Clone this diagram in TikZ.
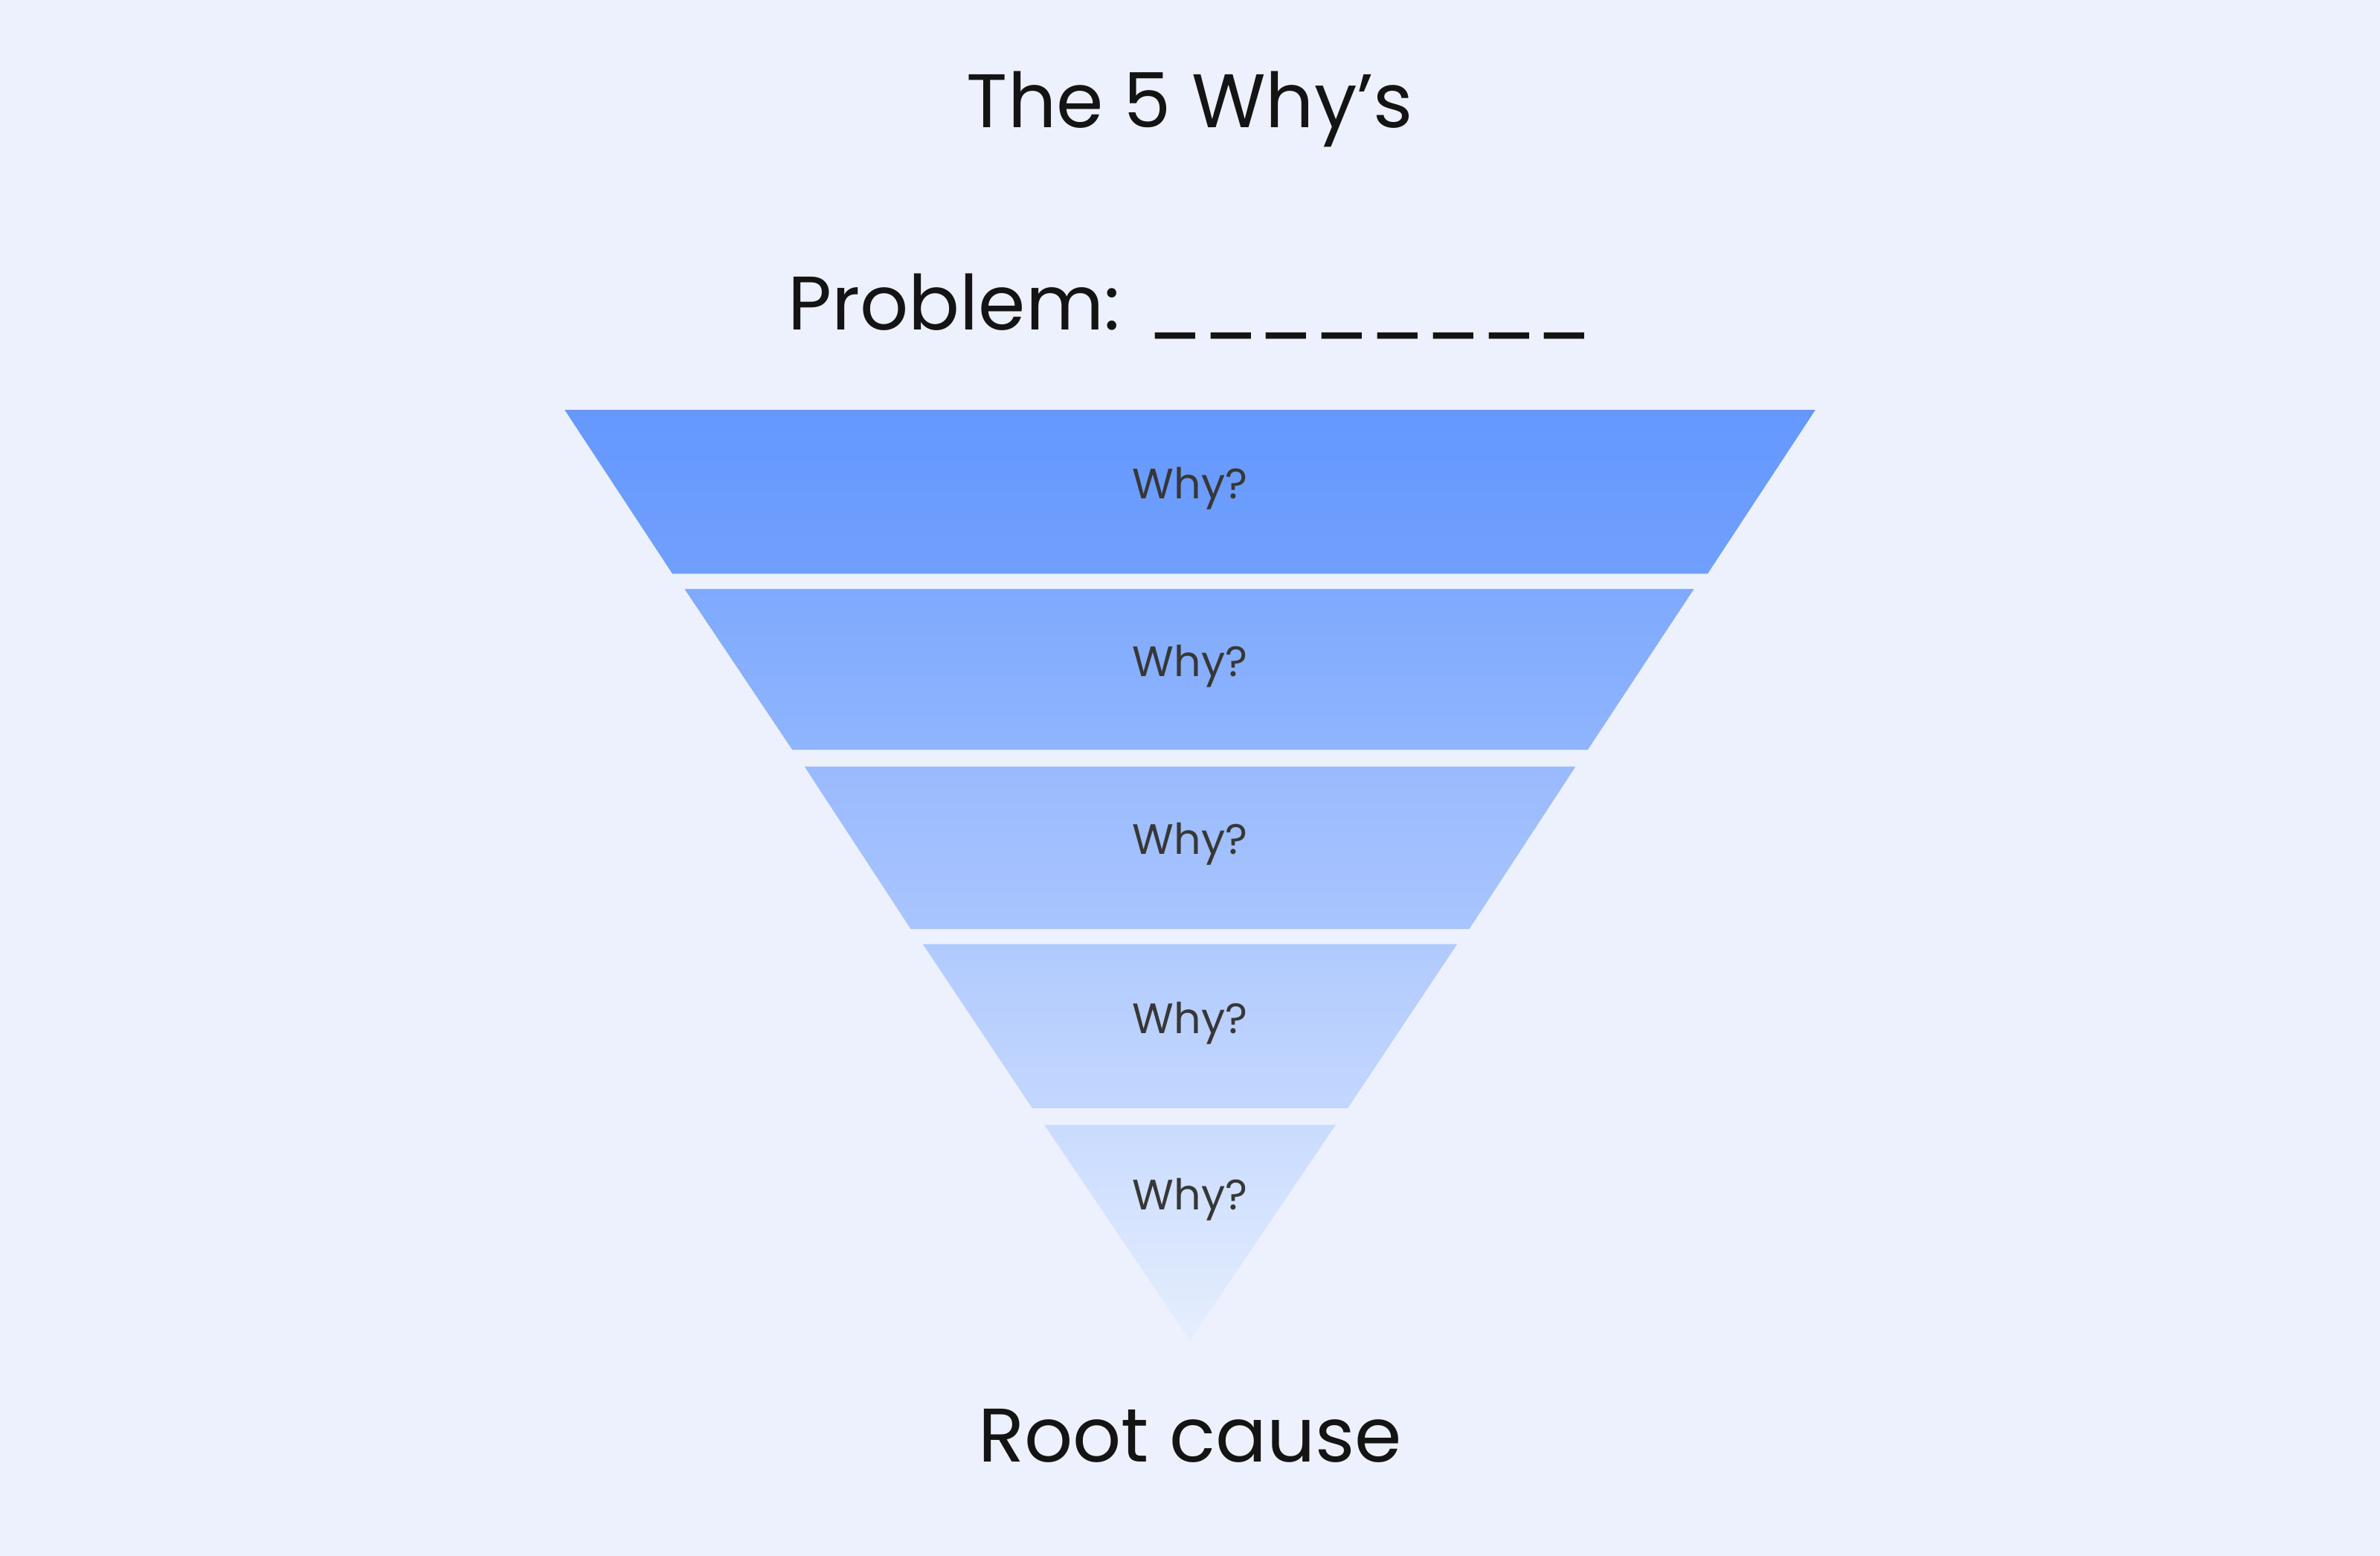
\documentclass[tikz,border=0pt]{standalone}
\usepackage{fontspec}
\setmainfont{Poppins}
\definecolor{bg}{HTML}{EDF1FD}
\definecolor{tx}{HTML}{141414}
\definecolor{aT}{HTML}{6598FE}\definecolor{aB}{HTML}{70A0FE}
\definecolor{bT}{HTML}{7EA9FE}\definecolor{bB}{HTML}{90B5FE}
\definecolor{cT}{HTML}{99BAFE}\definecolor{cB}{HTML}{A9C5FE}
\definecolor{dT}{HTML}{B1CAFE}\definecolor{dB}{HTML}{C3D7FE}
\definecolor{eT}{HTML}{C9DBFE}\definecolor{eB}{HTML}{E6EEFD}
\begin{document}
\begin{tikzpicture}[x=0.5pt,y=-0.5pt,
  big/.style={font=\fontsize{25}{30}\selectfont,text=tx},
  why/.style={font=\fontsize{14}{17}\selectfont,text=tx!85}]
\fill[bg] (0,0) rectangle (1568,1025);
\useasboundingbox (0,0) rectangle (1568,1025);
\shade[top color=aT,bottom color=aB] (372,270)--(1196,270)--(1125,378)--(443,378)--cycle;
\shade[top color=bT,bottom color=bB] (451,388)--(1116,388)--(1046,494)--(522,494)--cycle;
\shade[top color=cT,bottom color=cB] (530,505)--(1038,505)--(968,612)--(600,612)--cycle;
\shade[top color=dT,bottom color=dB] (608,622)--(960,622)--(888,730)--(680,730)--cycle;
\shade[top color=eT,bottom color=eB] (688,741)--(880,741)--(784,883)--cycle;
\node[big] (t) at (784,72) {The 5 Why’s};
\node[big] (p) at (784,202) {Problem: \_\_\_\_\_\_\_\_};
\node[why] (w1) at (784,322) {Why?};
\node[why] (w2) at (784,439) {Why?};
\node[why] (w3) at (784,556) {Why?};
\node[why] (w4) at (784,674) {Why?};
\node[why] (w5) at (784,790) {Why?};
\node[big] (r) at (784,946) {Root cause};
\end{tikzpicture}
\end{document}
